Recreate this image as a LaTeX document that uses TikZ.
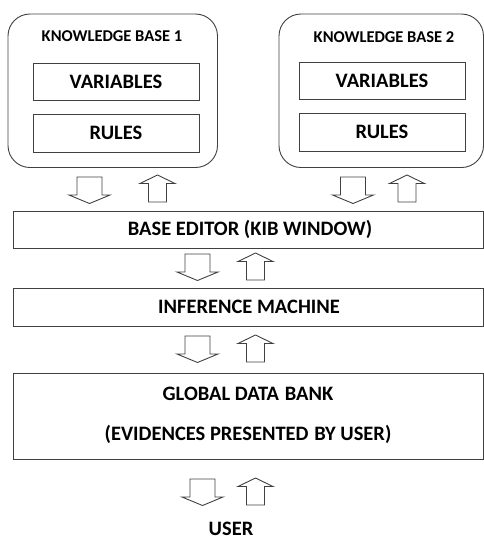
\documentclass[tikz,border=0pt]{standalone}
\usepackage{fontspec}
\setmainfont{Carlito}
\begin{document}
\begin{tikzpicture}[x=1pt,y=-1pt,
  line/.style={draw=black!75,line width=0.9pt},
  kbbox/.style={line,rounded corners=22pt},
  inbox/.style={line,fill=white},
  kblabel/.style={font=\fontsize{16.5}{18}\selectfont\bfseries,inner sep=0pt},
  lbl/.style={font=\fontsize{20.5}{24}\selectfont\bfseries,inner sep=0pt},
  pics/downarr/.style={code={
    \draw[line,line join=miter] (-12.5,0) -- (12.5,0) -- (12.5,18) -- (20.5,18) -- (0,26.5) -- (-20.5,18) -- (-12.5,18) -- cycle;}},
  pics/uparr/.style={code={
    \draw[line,line join=miter] (-9,27) -- (9,27) -- (9,8.5) -- (17.5,8.5) -- (0,0) -- (-17.5,8.5) -- (-9,8.5) -- cycle;}}
]
\useasboundingbox (0,0) rectangle (484,542);
% knowledge bases
\draw[kbbox] (8,14) rectangle (217.5,167.5);
\node[kblabel] (kb1) at (112,36) {KNOWLEDGE BASE 1};
\draw[inbox] (33,63) rectangle (199,100); \node[lbl] (var1) at (116,81.5) {VARIABLES};
\draw[inbox] (33,114) rectangle (199,152); \node[lbl] (rul1) at (116,133) {RULES};

\draw[kbbox] (279,14) rectangle (483.5,167.5);
\node[kblabel] (kb2) at (384,37) {KNOWLEDGE BASE 2};
\draw[inbox] (299,62) rectangle (465,99); \node[lbl] (var2) at (382,80.5) {VARIABLES};
\draw[inbox] (299,113) rectangle (465,151); \node[lbl] (rul2) at (382,132) {RULES};

% arrows row 1
\pic at (89.5,177) {downarr};
\pic at (157.5,175) {uparr};
\pic at (353,177) {downarr};
\pic at (407,175) {uparr};

% base editor
\draw[line] (13,211) rectangle (483.5,248);
\node[lbl] (be) at (250,229.5) {BASE EDITOR (KIB WINDOW)};

\pic at (197.5,254) {downarr};
\pic at (255.5,253) {uparr};

\draw[line] (13,288) rectangle (483.5,326);
\node[lbl] (im) at (249,306.5) {INFERENCE MACHINE};

\pic at (197.5,336) {downarr};
\pic at (255.5,335) {uparr};

\draw[line] (13,373) rectangle (483.5,459);
\node[lbl] (gdb) at (248,394) {GLOBAL DATA\hspace{0.28em}BANK};
\node[lbl] (ev) at (248,434.5) {(EVIDENCES PRESENTED\hspace{0.28em}BY USER)};

\pic at (202.5,479) {downarr};
\pic at (255.5,478) {uparr};

\node[lbl] (user) at (231,529) {USER};
\end{tikzpicture}
\end{document}
